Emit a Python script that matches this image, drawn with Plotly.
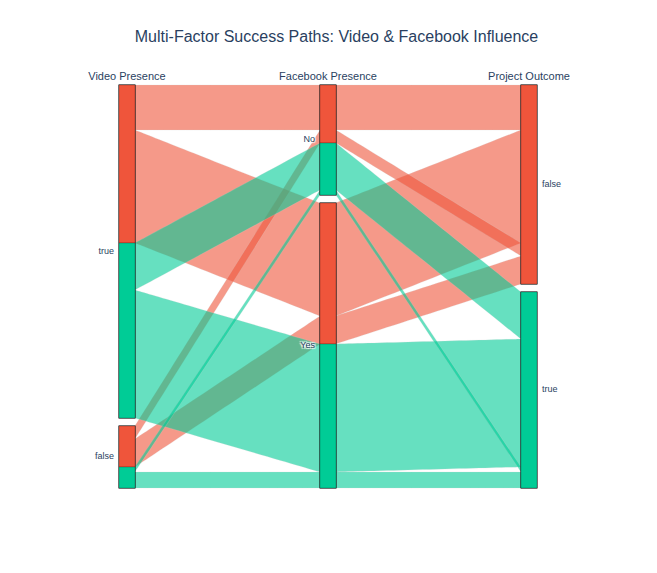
import plotly.graph_objects as go

video = ["true", "true", "false", "false", "true", "true", "false", "false"]
facebook = ["No", "Yes", "No", "Yes", "No", "Yes", "No", "Yes"]
outcome = ["false", "false", "false", "false", "true", "true", "true", "true"]
counts = [45, 113, 13, 28, 47, 128, 5, 16]

color_val = [0 if o == "false" else 1 for o in outcome]

fig = go.Figure(go.Parcats(
    dimensions=[
        dict(label="Video Presence", values=video, categoryorder="array", categoryarray=["true", "false"]),
        dict(label="Facebook Presence", values=facebook, categoryorder="array", categoryarray=["No", "Yes"]),
        dict(label="Project Outcome", values=outcome, categoryorder="array", categoryarray=["false", "true"]),
    ],
    counts=counts,
    line=dict(color=color_val, colorscale=[[0, "#EF553B"], [1, "#00CC96"]], shape="linear"),
    labelfont=dict(size=11),
    tickfont=dict(size=9),
))
fig.update_layout(
    title=dict(text="Multi-Factor Success Paths: Video & Facebook Influence", x=0.5, y=0.96, font=dict(size=16)),
    width=657, height=573,
    font=dict(family="Liberation Sans, Arial, sans-serif"),
    margin=dict(l=71, r=88, t=77, b=93),
    paper_bgcolor="white",
)
fig.write_html("out.html")
